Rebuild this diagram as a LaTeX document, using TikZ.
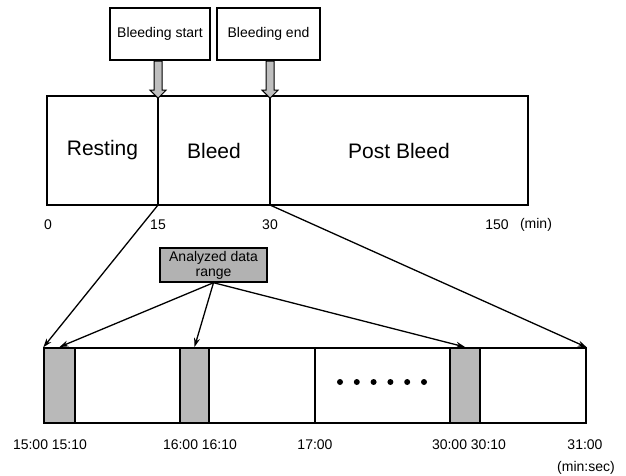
\documentclass[tikz,border=0pt]{standalone}
\usepackage{fontspec}
\setmainfont{Liberation Sans}
\usetikzlibrary{arrows.meta, positioning, shapes.arrows}
\tikzset{
	tagbox/.style={draw, line width=1.4pt, minimum width=#1, minimum height=52pt, font=\fontsize{14}{16}\selectfont, inner sep=2pt},
	phasebox/.style={draw, line width=1.4pt, outer sep=0pt, minimum width=#1, minimum height=109pt, font=\fontsize{21}{24}\selectfont},
	eventarr/.style={single arrow, draw, line width=1pt, fill=gray!50, shape border rotate=270, minimum height=37pt, inner sep=3.5pt, single arrow head extend=4pt, anchor=tail},
	ticklabel/.style={font=\fontsize{14}{16}\selectfont, inner sep=1pt},
	winbox/.style={draw, line width=2pt, fill=gray!55, minimum width=#1, minimum height=75pt, inner sep=0pt},
	zoomarr/.style={-{Stealth[length=9pt, width=6pt]}, line width=1.3pt},
}

\begin{document}
\begin{tikzpicture}[x=1pt, y=-1pt]
				\useasboundingbox (0,0) rectangle (626,475);
				% event boxes
				\node[tagbox=100pt] (bs) at (160,34) {Bleeding start};
				\node[tagbox=103pt] (be) at (268.5,34) {Bleeding end};
				% phases
				\node[phasebox=111pt] (rest) at (102.5,150.5) {Resting};
				\node[phasebox=112pt, right=0pt of rest] (bleed) {Bleed};
				\node[phasebox=258pt, right=0pt of bleed] (post) {Post Bleed};
				\draw[line width=2.4pt] (bleed.north east) -- (bleed.south east);
				\node[eventarr] (ea) at (bs.south -| rest.east) {};
				\node[eventarr] (eb) at (be.south -| bleed.east) {};
				% time axis (min)
				\node[ticklabel] (t0) at (48,225) {0};
				\node[ticklabel] (t15) at (158,225) {15};
				\node[ticklabel] (t30) at (270,225) {30};
				\node[ticklabel] (t150) at (497,225) {150};
				\node[ticklabel] (tmin) at (536,225) {(min)};
				% analyzed range
				\node[draw, line width=1.4pt, fill=gray!60, minimum width=107pt, minimum height=34pt, inner sep=1pt, align=center, font=\fontsize{14}{15}\selectfont] (adr) at (213.5,265) {Analyzed data\\range};
				% zoomed strip
				\node[draw, line width=1.4pt, minimum width=542pt, minimum height=75pt, inner sep=0pt] (lo) at (315,385.5) {};
				\draw[line width=1.4pt] (lo.north) -- (lo.south);
				\node[winbox=31pt] (w1) at (59.5,385.5) {};
				\node[winbox=29pt] (w2) at (194.5,385.5) {};
				\node[winbox=30pt] (w3) at (465,385.5) {};
				\foreach \i in {0,...,5}
					\fill (340+\i*16.8,382) circle (3pt);
				\draw[zoomarr] (rest.south east) -- (lo.north west);
				\draw[zoomarr] (bleed.south east) -- (lo.north east);
				\draw[zoomarr] (adr.south) -- (w1.north);
				\draw[zoomarr] (adr.south) -- (w2.north);
				\draw[zoomarr] (adr.south) -- (w3.north);
				% time axis (min:sec)
				\node[ticklabel] (s1) at (50,445) {15:00 15:10};
				\node[ticklabel] (s2) at (200,445) {16:00 16:10};
				\node[ticklabel] (s3) at (315,445) {17:00};
				\node[ticklabel] (s4) at (469,445) {30:00 30:10};
				\node[ticklabel] (s5) at (585,445) {31:00};
				\node[ticklabel] (su) at (586,468) {(min:sec)};
			\end{tikzpicture}
\end{document}
